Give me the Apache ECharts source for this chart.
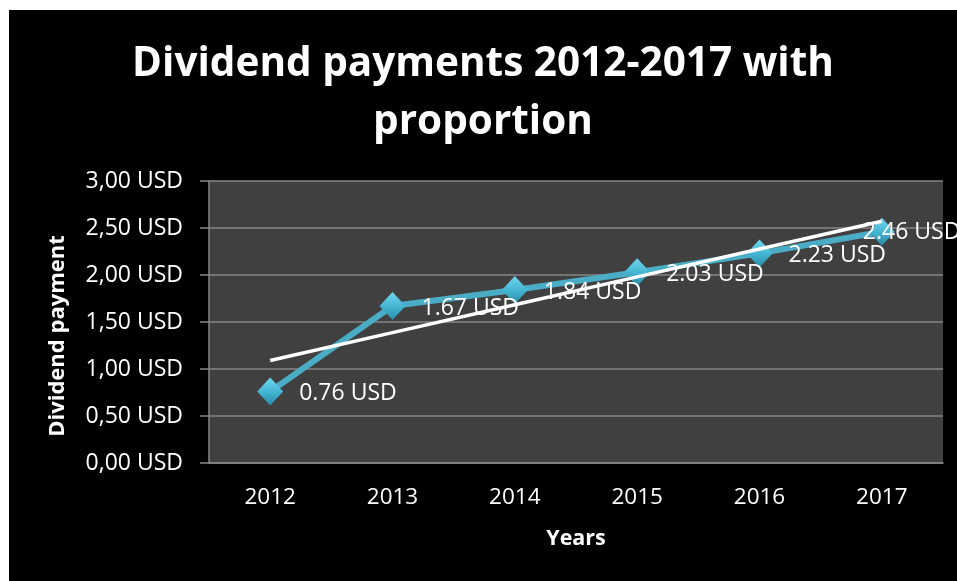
<!DOCTYPE html>
<html>
<head>
<meta charset="utf-8">
<script src="https://cdn.jsdelivr.net/npm/echarts@6/dist/echarts.min.js"></script>
<style>
html,body{margin:0;padding:0;background:#fff;width:957px;height:581px;overflow:hidden;}
#chart{position:absolute;left:9px;top:10px;width:948px;height:571px;background:#000;}
</style>
</head>
<body>
<div id="chart"></div>
<script>
const categories = ['2012', '2013', '2014', '2015', '2016', '2017'];
const dividends = [0.76, 1.67, 1.84, 2.03, 2.23, 2.46];
const trendValues = [1.091, 1.387, 1.684, 1.980, 2.276, 2.572];
const dataLabels = ['0.76 USD', '1.67 USD', '1.84 USD', '2.03 USD', '2.23 USD', '2.46 USD'];
const yTicks = [0, 0.5, 1, 1.5, 2, 2.5, 3];

const FONT = 'Open Sans';
const chart = echarts.init(document.getElementById('chart'));

const mainData = dividends.map((v, i) => {
  const item = { value: v };
  if (i === dividends.length - 1) {
    item.label = { offset: [-48, 1] };
  }
  return item;
});

chart.setOption({
  backgroundColor: '#000',
  animation: false,
  title: {
    text: 'Dividend payments 2012-2017 with\nproportion',
    left: 'center',
    top: 20,
    textStyle: { color: '#fff', fontFamily: FONT, fontWeight: 'bold', fontSize: 40.5, lineHeight: 58 }
  },
  grid: { left: 200, top: 171, right: 14, bottom: 118, containLabel: false },
  xAxis: {
    type: 'category',
    data: categories,
    boundaryGap: true,
    name: 'Years',
    nameLocation: 'middle',
    nameGap: 65,
    nameTextStyle: { color: '#fff', fontFamily: FONT, fontWeight: 'bold', fontSize: 21.5, verticalAlign: 'top' },
    axisLine: { show: true, lineStyle: { color: '#868686', width: 1.5 } },
    axisTick: { show: false },
    axisLabel: { color: '#fff', fontFamily: FONT, fontSize: 22.5, margin: 23 },
    splitLine: { show: false }
  },
  yAxis: {
    type: 'value',
    min: 0, max: 3, interval: 0.5,
    name: 'Dividend payment',
    nameLocation: 'middle',
    nameGap: 140,
    nameRotate: 90,
    nameTextStyle: { color: '#fff', fontFamily: FONT, fontWeight: 'bold', fontSize: 22, padding: [0, 28, 0, 0] },
    axisLine: { show: true, lineStyle: { color: '#868686', width: 1.5 } },
    axisTick: { show: true, inside: false, length: 9, lineStyle: { color: '#868686', width: 1.5 } },
    axisLabel: {
      color: '#fff', fontFamily: FONT, fontSize: 23, margin: 26,
      formatter: v => {
        const idx = yTicks.indexOf(v);
        return (idx >= 0 ? yTicks[idx] : v).toFixed(2).replace('.', ',') + ' USD';
      }
    },
    splitLine: { show: true, lineStyle: { color: '#868686', width: 1.5 } },
    splitArea: { show: true, areaStyle: { color: ['#404040', '#404040'] } }
  },
  series: [
    {
      name: 'Dividend',
      type: 'line',
      data: mainData,
      z: 2,
      lineStyle: { color: '#4BACC6', width: 6 },
      symbol: 'diamond',
      symbolSize: [26, 28],
      itemStyle: {
        color: new echarts.graphic.LinearGradient(0, 0, 0, 1, [
          { offset: 0, color: '#72d6f0' },
          { offset: 0.5, color: '#45b6d4' },
          { offset: 1, color: '#2a8ba6' }
        ]),
        borderWidth: 0
      },
      label: {
        show: true,
        position: 'right',
        distance: 16,
        offset: [0, 2],
        color: '#fff',
        fontFamily: FONT,
        fontSize: 23,
        formatter: p => dataLabels[p.dataIndex]
      }
    },
    {
      name: 'Trend',
      type: 'line',
      data: trendValues,
      z: 3,
      symbol: 'none',
      lineStyle: { color: '#fff', width: 3.5 },
      silent: true
    }
  ]
});
</script>
</body>
</html>
